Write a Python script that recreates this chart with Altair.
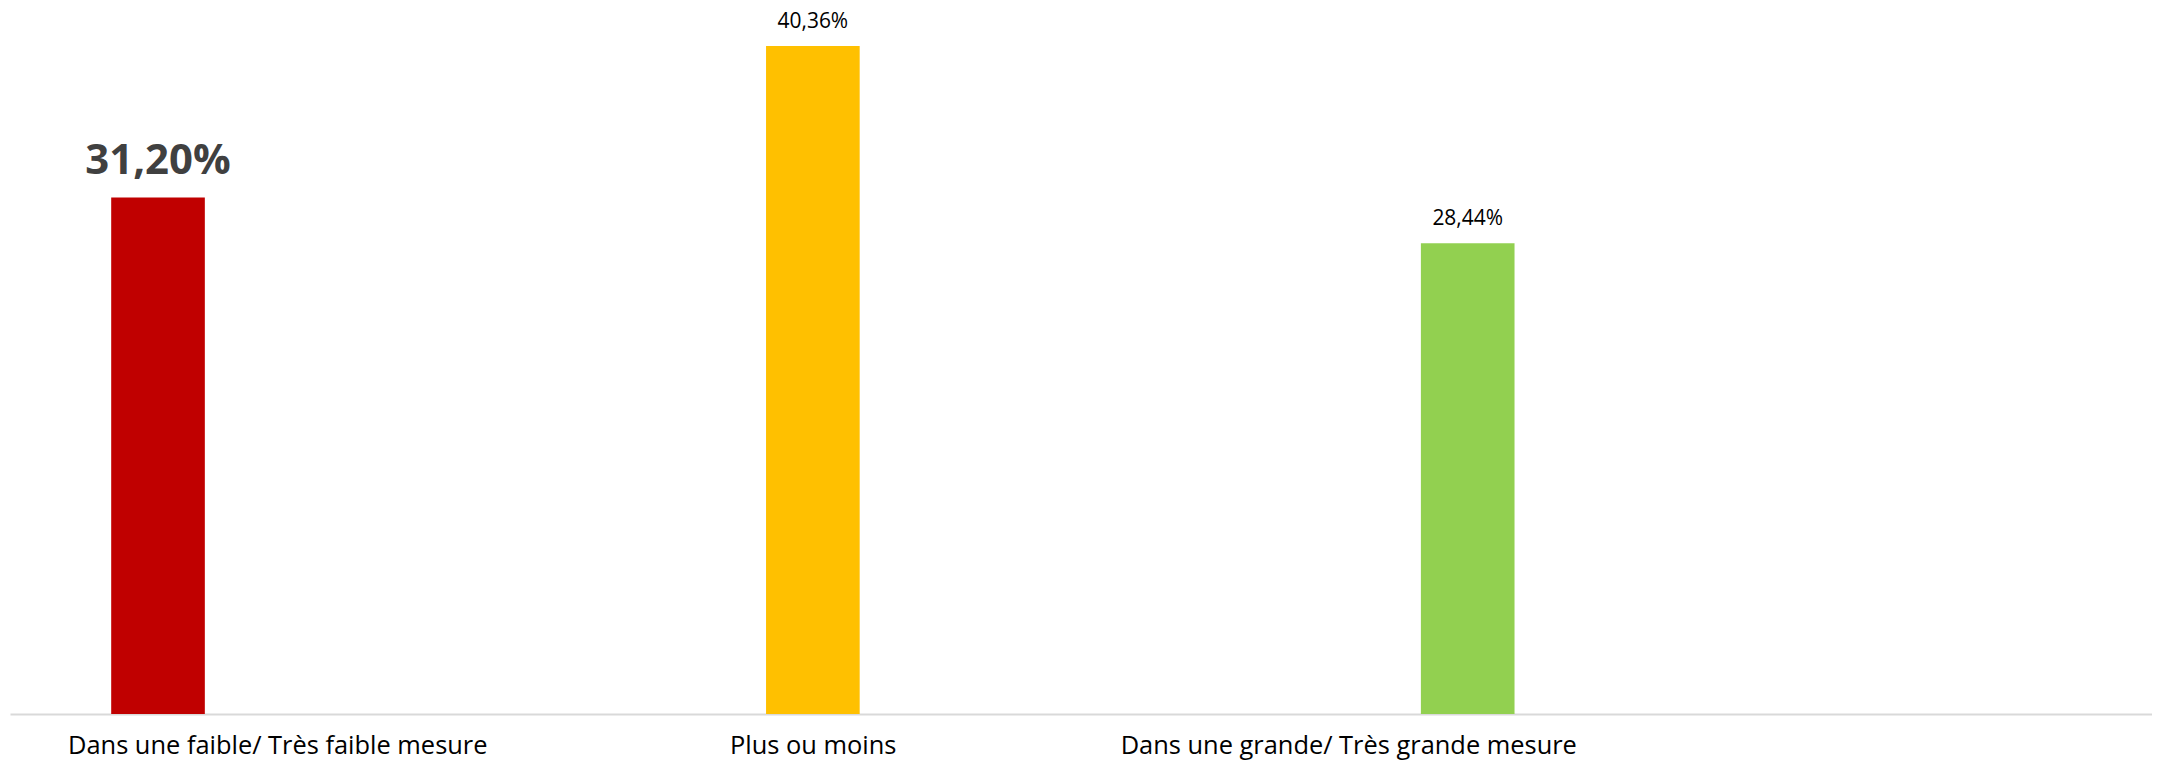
import altair as alt
import pandas as pd

categories = ["Dans une faible/ Très faible mesure", "Plus ou moins", "Dans une grande/ Très grande mesure"]
values = [0.3120, 0.4036, 0.2844]
labels = ["31,20%", "40,36%", "28,44%"]
colors = ["#C00000", "#FFC000", "#92D050"]
highlight = [True, False, False]

df = pd.DataFrame({"cat": categories, "val": values, "lab": labels, "col": colors, "hi": highlight})

FONT = "Open Sans"

bar_scale = alt.Scale(type="band", domain=categories, paddingInner=0.857, paddingOuter=0.564,
                      align=0.137, round=False)
yscale = alt.Scale(domain=[0, 0.4259], nice=False, zero=True)

base = alt.Chart(df)

bars = base.mark_bar().encode(
    x=alt.X("cat:N", scale=bar_scale, axis=None, sort=categories),
    y=alt.Y("val:Q", scale=yscale, axis=None),
    color=alt.Color("col:N", scale=None, legend=None),
)

big_text = base.transform_filter("datum.hi").mark_text(
    font=FONT, fontSize=42, fontWeight="bold", color="#404040", baseline="alphabetic", dy=-24
).encode(
    x=alt.X("cat:N", scale=bar_scale, axis=None, sort=categories),
    y=alt.Y("val:Q", scale=yscale, axis=None),
    text="lab:N",
)

small_text = base.transform_filter("!datum.hi").mark_text(
    font=FONT, fontSize=21, color="#000000", baseline="alphabetic", dy=-18
).encode(
    x=alt.X("cat:N", scale=bar_scale, axis=None, sort=categories),
    y=alt.Y("val:Q", scale=yscale, axis=None),
    text="lab:N",
)

axis_layer = base.mark_bar(opacity=0).encode(
    x=alt.X(
        "cat:N",
        sort=categories,
        scale=alt.Scale(type="band", domain=categories + [" "], paddingInner=0, paddingOuter=0),
        axis=alt.Axis(
            title=None,
            labelAngle=0,
            labelFont=FONT,
            labelFontSize=25.5,
            labelColor="#000000",
            labelPadding=20,
            labelLimit=1000,
            ticks=False,
            domainColor="#D9D9D9",
            domainWidth=2,
            grid=False,
        ),
    ),
    y=alt.Y("val:Q", scale=yscale, axis=None),
)

chart = alt.layer(axis_layer, bars, big_text, small_text).resolve_scale(x="independent").properties(
    width=2148,
    height=707,
    padding={"left": 2, "right": 0, "top": 0, "bottom": 0},
    background="white",
).configure_view(stroke=None)

chart.save("out.html", embed_options={"renderer": "svg", "actions": False})
